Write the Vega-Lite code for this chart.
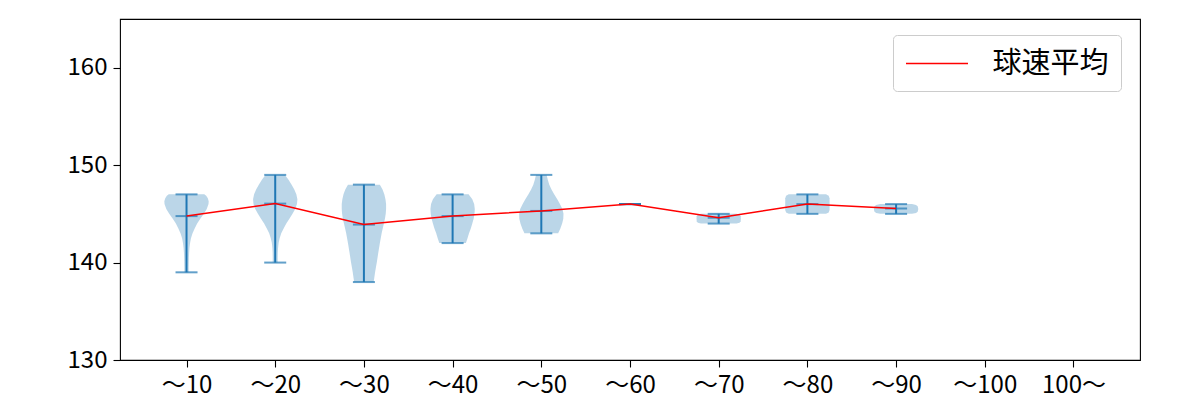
{
  "$schema": "https://vega.github.io/schema/vega-lite/v6.json",
  "width": 1020,
  "height": 341,
  "autosize": {"type": "none"},
  "padding": {"left": 120, "top": 19, "right": 60, "bottom": 40},
  "background": "white",
  "config": {
    "view": {"stroke": "#000000", "strokeWidth": 1.1},
    "font": "Noto Sans CJK JP",
    "axis": {
      "domain": false,
      "grid": false,
      "tickColor": "#000000",
      "tickSize": 7,
      "tickWidth": 1.1,
      "labelColor": "#000000",
      "labelFont": "Noto Sans CJK JP",
      "labelFontSize": 24,
      "labelPadding": 6,
      "title": null
    }
  },
  "datasets": {
    "violin": [
      {"p": 1, "v": 139, "w": 0.025}, {"p": 1, "v": 139.5, "w": 0.025}, {"p": 1, "v": 140, "w": 0.026}, {"p": 1, "v": 140.5, "w": 0.027}, {"p": 1, "v": 141, "w": 0.029}, {"p": 1, "v": 141.5, "w": 0.033}, {"p": 1, "v": 142, "w": 0.04}, {"p": 1, "v": 142.5, "w": 0.05}, {"p": 1, "v": 143, "w": 0.068}, {"p": 1, "v": 143.5, "w": 0.092}, {"p": 1, "v": 144, "w": 0.12}, {"p": 1, "v": 144.5, "w": 0.155}, {"p": 1, "v": 145, "w": 0.195}, {"p": 1, "v": 145.5, "w": 0.228}, {"p": 1, "v": 146, "w": 0.248}, {"p": 1, "v": 146.3, "w": 0.25}, {"p": 1, "v": 146.6, "w": 0.24}, {"p": 1, "v": 146.85, "w": 0.222}, {"p": 1, "v": 147, "w": 0.2},
      {"p": 2, "v": 140, "w": 0.028}, {"p": 2, "v": 140.5, "w": 0.028}, {"p": 2, "v": 141, "w": 0.029}, {"p": 2, "v": 141.5, "w": 0.032}, {"p": 2, "v": 142, "w": 0.038}, {"p": 2, "v": 142.5, "w": 0.05}, {"p": 2, "v": 143, "w": 0.068}, {"p": 2, "v": 143.5, "w": 0.095}, {"p": 2, "v": 144, "w": 0.125}, {"p": 2, "v": 144.5, "w": 0.16}, {"p": 2, "v": 145, "w": 0.195}, {"p": 2, "v": 145.5, "w": 0.225}, {"p": 2, "v": 146, "w": 0.245}, {"p": 2, "v": 146.5, "w": 0.25}, {"p": 2, "v": 147, "w": 0.238}, {"p": 2, "v": 147.5, "w": 0.215}, {"p": 2, "v": 148, "w": 0.185}, {"p": 2, "v": 148.5, "w": 0.15}, {"p": 2, "v": 149, "w": 0.11},
      {"p": 3, "v": 138, "w": 0.11}, {"p": 3, "v": 138.5, "w": 0.118}, {"p": 3, "v": 139, "w": 0.126}, {"p": 3, "v": 139.5, "w": 0.135}, {"p": 3, "v": 140, "w": 0.145}, {"p": 3, "v": 141, "w": 0.162}, {"p": 3, "v": 142, "w": 0.18}, {"p": 3, "v": 143, "w": 0.2}, {"p": 3, "v": 143.5, "w": 0.212}, {"p": 3, "v": 144, "w": 0.225}, {"p": 3, "v": 144.5, "w": 0.237}, {"p": 3, "v": 145, "w": 0.246}, {"p": 3, "v": 145.5, "w": 0.25}, {"p": 3, "v": 146, "w": 0.25}, {"p": 3, "v": 146.5, "w": 0.243}, {"p": 3, "v": 147, "w": 0.23}, {"p": 3, "v": 147.5, "w": 0.21}, {"p": 3, "v": 148, "w": 0.18},
      {"p": 4, "v": 142, "w": 0.15}, {"p": 4, "v": 142.5, "w": 0.168}, {"p": 4, "v": 143, "w": 0.185}, {"p": 4, "v": 143.5, "w": 0.205}, {"p": 4, "v": 144, "w": 0.222}, {"p": 4, "v": 144.5, "w": 0.237}, {"p": 4, "v": 145, "w": 0.247}, {"p": 4, "v": 145.5, "w": 0.25}, {"p": 4, "v": 146, "w": 0.243}, {"p": 4, "v": 146.5, "w": 0.222}, {"p": 4, "v": 147, "w": 0.18},
      {"p": 5, "v": 143, "w": 0.19}, {"p": 5, "v": 143.5, "w": 0.215}, {"p": 5, "v": 144, "w": 0.235}, {"p": 5, "v": 144.5, "w": 0.248}, {"p": 5, "v": 145, "w": 0.25}, {"p": 5, "v": 145.5, "w": 0.238}, {"p": 5, "v": 146, "w": 0.21}, {"p": 5, "v": 146.5, "w": 0.18}, {"p": 5, "v": 147, "w": 0.145}, {"p": 5, "v": 147.5, "w": 0.115}, {"p": 5, "v": 148, "w": 0.09}, {"p": 5, "v": 148.5, "w": 0.073}, {"p": 5, "v": 149, "w": 0.06},
      {"p": 7, "v": 144, "w": 0.2}, {"p": 7, "v": 144.1, "w": 0.235}, {"p": 7, "v": 144.25, "w": 0.248}, {"p": 7, "v": 144.5, "w": 0.25}, {"p": 7, "v": 144.75, "w": 0.248}, {"p": 7, "v": 144.9, "w": 0.235}, {"p": 7, "v": 145, "w": 0.2},
      {"p": 8, "v": 145, "w": 0.21}, {"p": 8, "v": 145.15, "w": 0.24}, {"p": 8, "v": 145.4, "w": 0.25}, {"p": 8, "v": 146, "w": 0.25}, {"p": 8, "v": 146.6, "w": 0.25}, {"p": 8, "v": 146.85, "w": 0.24}, {"p": 8, "v": 147, "w": 0.21},
      {"p": 9, "v": 145, "w": 0.18}, {"p": 9, "v": 145.1, "w": 0.225}, {"p": 9, "v": 145.25, "w": 0.245}, {"p": 9, "v": 145.5, "w": 0.25}, {"p": 9, "v": 145.75, "w": 0.245}, {"p": 9, "v": 145.9, "w": 0.225}, {"p": 9, "v": 146, "w": 0.18}
    ],
    "stats": [
      {"p": 1, "min": 139, "max": 147, "mean": 144.77},
      {"p": 2, "min": 140, "max": 149, "mean": 146.05},
      {"p": 3, "min": 138, "max": 148, "mean": 143.9},
      {"p": 4, "min": 142, "max": 147, "mean": 144.77},
      {"p": 5, "min": 143, "max": 149, "mean": 145.3},
      {"p": 6, "min": 146, "max": 146, "mean": 146.0},
      {"p": 7, "min": 144, "max": 145, "mean": 144.6},
      {"p": 8, "min": 145, "max": 147, "mean": 146.0},
      {"p": 9, "min": 145, "max": 146, "mean": 145.55}
    ]
  },
  "layer": [
    {
      "data": {"name": "violin"},
      "transform": [
        {"calculate": "datum.p - datum.w", "as": "xl"},
        {"calculate": "datum.p + datum.w", "as": "xr"}
      ],
      "mark": {"type": "area", "orient": "horizontal", "color": "#1f77b4", "fillOpacity": 0.3},
      "encoding": {
        "y": {"field": "v", "type": "quantitative", "scale": {"domain": [130, 165], "nice": false, "zero": false},
              "axis": {"values": [130, 140, 150, 160]}},
        "x": {"field": "xl", "type": "quantitative", "scale": {"domain": [0.25, 11.75], "nice": false, "zero": false},
              "axis": {"values": [1, 2, 3, 4, 5, 6, 7, 8, 9, 10, 11],
                       "labelExpr": "['〜10','〜20','〜30','〜40','〜50','〜60','〜70','〜80','〜90','〜100','100〜'][datum.value - 1]"}},
        "x2": {"field": "xr"},
        "detail": {"field": "p"}
      }
    },
    {
      "data": {"name": "stats"},
      "mark": {"type": "rule", "color": "#1f77b4", "strokeWidth": 2},
      "encoding": {
        "x": {"field": "p", "type": "quantitative"},
        "y": {"field": "min", "type": "quantitative"},
        "y2": {"field": "max"}
      }
    },
    {
      "data": {"name": "stats"},
      "mark": {"type": "tick", "orient": "horizontal", "color": "#1f77b4", "size": 22, "thickness": 2},
      "encoding": {
        "x": {"field": "p", "type": "quantitative"},
        "y": {"field": "min", "type": "quantitative"}
      }
    },
    {
      "data": {"name": "stats"},
      "mark": {"type": "tick", "orient": "horizontal", "color": "#1f77b4", "size": 22, "thickness": 2},
      "encoding": {
        "x": {"field": "p", "type": "quantitative"},
        "y": {"field": "max", "type": "quantitative"}
      }
    },
    {
      "data": {"name": "stats"},
      "mark": {"type": "tick", "orient": "horizontal", "color": "#1f77b4", "size": 22, "thickness": 2},
      "encoding": {
        "x": {"field": "p", "type": "quantitative"},
        "y": {"field": "mean", "type": "quantitative"}
      }
    },
    {
      "data": {"name": "stats"},
      "mark": {"type": "line", "strokeWidth": 1.5},
      "encoding": {
        "x": {"field": "p", "type": "quantitative"},
        "y": {"field": "mean", "type": "quantitative"},
        "color": {
          "datum": "球速平均",
          "scale": {"range": ["#ff0000"]},
          "legend": {
            "orient": "none",
            "legendX": 773,
            "legendY": 16,
            "title": null,
            "symbolType": "M-2,0H2",
            "symbolSize": 961,
            "symbolOffset": 15.5,
            "symbolStrokeWidth": 1.5,
            "labelFont": "Noto Sans CJK JP",
            "labelFontSize": 29,
            "labelColor": "#000000",
            "labelOffset": 39,
            "padding": 12,
            "strokeColor": "#cccccc",
            "fillColor": "#ffffff",
            "cornerRadius": 4
          }
        }
      }
    }
  ]
}
